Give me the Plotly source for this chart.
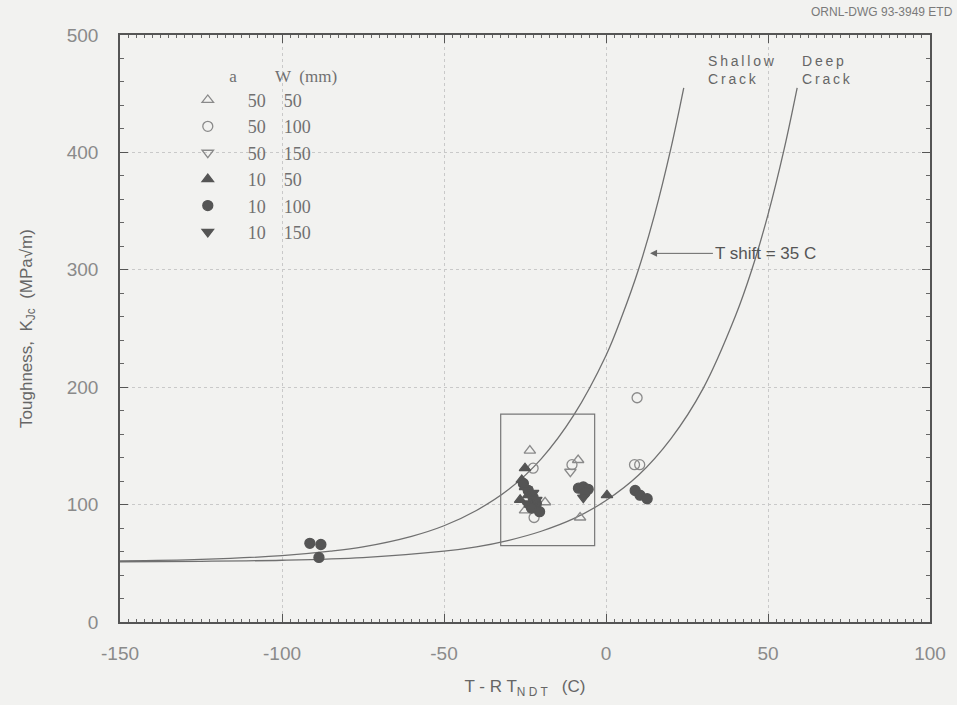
import plotly.graph_objects as go

# Fracture toughness data grouped by crack depth a and specimen width W (mm)
a50_w50_x = [-23.5, -25.0, -18.8, -8.6, -8.0]
a50_w50_y = [146, 95, 102, 138, 89]

a50_w100_x = [-22.5, -22.2, -10.5, 8.8, 10.4, 9.6]
a50_w100_y = [131, 89, 134, 134, 134, 191]

a50_w150_x = [-11.0]
a50_w150_y = [128]

a10_w50_x = [-25.0, -26.0, -25.0, -24.0, -26.5, -23.5, 0.3]
a10_w50_y = [131, 121, 115, 108, 104, 100, 108]

a10_w100_x = [-91.4, -88.0, -88.6, -25.5, -24.0, -22.5, -21.5, -23.0, -20.5,
              -8.5, -7.0, -5.5, -6.5, 9.0, 10.5, 12.7]
a10_w100_y = [67, 66, 55, 118, 112, 106, 101, 97, 94,
              114, 115, 113, 110, 112, 108, 105]

a10_w150_x = [-24.5, -22.5, -21.5, -24.5, -7.0]
a10_w150_y = [113, 110, 104, 101, 106]

# Toughness curves (T-RTNDT, K)
deep_x = [-150, -125, -100, -75, -50, -40, -30, -20, -10, 0, 10, 20, 30, 40, 45, 50, 55, 59]
deep_y = [51.3, 51.7, 52.6, 54.9, 60.3, 64, 69.6, 77.3, 88, 103.5, 125, 156, 199, 261, 300, 347, 403, 455]
shallow_x = [-150, -125, -100, -85, -75, -60, -50, -40, -30, -20, -10, 0, 5, 10, 15, 20, 24]
shallow_y = [52, 53.3, 56.5, 60.3, 64, 73, 82, 95, 113, 139, 176, 227, 261, 300, 347, 403, 455]

# Box around the cluster of data
box_x = [-32.5, -3.5]
box_y = [65, 177]

x_ticks = [-150, -100, -50, 0, 50, 100]
x_tick_text = ["-150", "-100", "-50", "0", "50", "100"]
y_ticks = [0, 100, 200, 300, 400, 500]
y_tick_text = ["0", "100", "200", "300", "400", "500"]

NBSP = "\u00a0"
series = [
    ("50" + NBSP * 4 + "50", a50_w50_x, a50_w50_y, "triangle-up-open", "#8a8a8a"),
    ("50" + NBSP * 4 + "100", a50_w100_x, a50_w100_y, "circle-open", "#8a8a8a"),
    ("50" + NBSP * 4 + "150", a50_w150_x, a50_w150_y, "triangle-down-open", "#8a8a8a"),
    ("10" + NBSP * 4 + "50", a10_w50_x, a10_w50_y, "triangle-up", "#555555"),
    ("10" + NBSP * 4 + "100", a10_w100_x, a10_w100_y, "circle", "#555555"),
    ("10" + NBSP * 4 + "150", a10_w150_x, a10_w150_y, "triangle-down", "#555555"),
]

fig = go.Figure()

curve_style = dict(color="#707070", width=1.3, smoothing=1.0)
fig.add_trace(go.Scatter(x=shallow_x, y=shallow_y, mode="lines", line_shape="spline",
                         line=curve_style, showlegend=False, hoverinfo="skip"))
fig.add_trace(go.Scatter(x=deep_x, y=deep_y, mode="lines", line_shape="spline",
                         line=curve_style, showlegend=False, hoverinfo="skip"))

for name, xs, ys, sym, col in series:
    fig.add_trace(go.Scatter(
        x=xs, y=ys, mode="markers", name=name,
        marker=dict(symbol=sym, size=10, color=col,
                    line=dict(color=col, width=1.3)),
    ))

fig.add_shape(type="rect", x0=box_x[0], x1=box_x[1], y0=box_y[0], y1=box_y[1],
              line=dict(color="#777777", width=1.2))

THIN = "\u2009"
label_font = dict(family="Liberation Sans", size=14, color="#666666")
fig.add_annotation(x=31, y=486, text=THIN.join("Shallow") + "<br>" + THIN.join("Crack"),
                   showarrow=False, xanchor="left", yanchor="top", align="left",
                   font=label_font)
fig.add_annotation(x=60, y=486, text=THIN.join("Deep") + "<br>" + THIN.join("Crack"),
                   showarrow=False, xanchor="left", yanchor="top", align="left",
                   font=label_font)

# Arrow marking the temperature shift between the curves
fig.add_annotation(x=13.6, y=314, ax=33.0, ay=314, axref="x", ayref="y",
                   text="T shift = 35 C", showarrow=True, xanchor="left",
                   arrowhead=2, arrowsize=1.4, arrowwidth=1, arrowcolor="#666666",
                   font=dict(family="Liberation Sans", size=17, color="#555555"))

fig.add_annotation(xref="paper", yref="paper", x=1.031, y=1.04,
                   text="ORNL-DWG 93-3949 ETD", showarrow=False,
                   xanchor="right", yanchor="middle",
                   font=dict(family="Liberation Sans", size=12, color="#7a7a7a"))

axis_common = dict(
    showline=True, linecolor="#555555", linewidth=1.5, mirror="allticks",
    ticks="inside", ticklen=8, tickcolor="#555555", tickwidth=1,
    showgrid=True, gridcolor="#c9c9c9", griddash="dot", gridwidth=1,
    zeroline=False,
    tickfont=dict(family="Liberation Sans", size=19, color="#8a8a8a"),
)

fig.update_xaxes(
    range=[-150, 100], tickvals=x_ticks, ticktext=x_tick_text,
    minor=dict(dtick=2.5, ticks="inside", ticklen=3, tickcolor="#666666", showgrid=False),
    ticklabelstandoff=13,
    title=dict(text="T - R T<sub>N D T</sub>   (C)", standoff=18,
               font=dict(family="Liberation Sans", size=17, color="#666666")),
    **axis_common,
)
fig.update_yaxes(
    range=[0, 500], tickvals=y_ticks, ticktext=y_tick_text,
    minor=dict(dtick=20, ticks="inside", ticklen=4, tickcolor="#666666", showgrid=False),
    ticklabelstandoff=16,
    title=dict(text="Toughness,  K<sub>Jc</sub>  (MPa√m)", standoff=30,
               font=dict(family="Liberation Sans", size=17, color="#666666")),
    **axis_common,
)

fig.update_layout(
    width=957, height=705,
    margin=dict(l=120, r=27, t=35, b=83, autoexpand=False),
    paper_bgcolor="#f2f2f0", plot_bgcolor="#f2f2f0",
    legend=dict(
        x=0.059, y=0.958, xanchor="left", yanchor="top",
        bgcolor="rgba(0,0,0,0)", itemwidth=70, tracegroupgap=0,
        font=dict(family="Liberation Serif", size=18, color="#707070"),
        title=dict(text=NBSP * 14 + "a" + NBSP * 9 + "W  (mm)",
                   font=dict(family="Liberation Serif", size=17, color="#707070")),
    ),
)

fig.write_html("out.html")
